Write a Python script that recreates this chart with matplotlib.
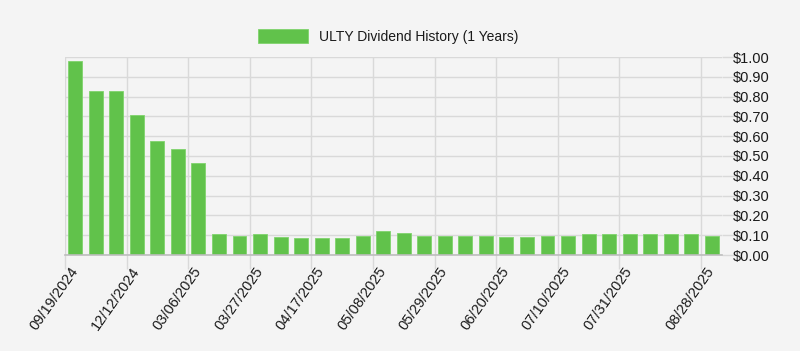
import matplotlib
matplotlib.use("Agg")
import matplotlib.pyplot as plt
from matplotlib.ticker import FuncFormatter, MultipleLocator
from matplotlib.transforms import ScaledTranslation

dates = ["09/19/2024", "10/17/2024", "11/14/2024", "12/12/2024", "01/09/2025",
         "02/06/2025", "03/06/2025", "03/13/2025", "03/20/2025", "03/27/2025",
         "04/03/2025", "04/10/2025", "04/17/2025", "04/24/2025", "05/01/2025",
         "05/08/2025", "05/15/2025", "05/22/2025", "05/29/2025", "06/05/2025",
         "06/12/2025", "06/20/2025", "06/26/2025", "07/03/2025", "07/10/2025",
         "07/17/2025", "07/24/2025", "07/31/2025", "08/07/2025", "08/14/2025",
         "08/21/2025", "08/28/2025"]
dividends = [0.98, 0.827, 0.827, 0.706, 0.575, 0.536, 0.466, 0.104, 0.097, 0.104,
             0.091, 0.084, 0.084, 0.084, 0.097, 0.123, 0.109, 0.097, 0.097, 0.097,
             0.097, 0.091, 0.091, 0.097, 0.097, 0.104, 0.104, 0.104, 0.104, 0.104,
             0.104, 0.097]
labeled_dates = ["09/19/2024", "12/12/2024", "03/06/2025", "03/27/2025", "04/17/2025",
                 "05/08/2025", "05/29/2025", "06/20/2025", "07/10/2025", "07/31/2025",
                 "08/28/2025"]
series_name = "ULTY Dividend History (1 Years)"

plt.rcParams['font.family'] = ['Liberation Sans', 'DejaVu Sans']
bg = "#f4f4f4"
grid_c = "#d9d9d9"
bar_c = "#61c24b"
txt_c = "#1a1a1a"

fig = plt.figure(figsize=(8.0, 3.51), dpi=100, facecolor=bg)
ax = fig.add_axes([65/800, 96/351, (722-65)/800, (255-57)/351])
ax.set_facecolor(bg)

x = list(range(len(dates)))
bars = ax.bar(x, dividends, width=0.68, color=bar_c, edgecolor="#7fd46c",
              linewidth=0.6, label=series_name, zorder=3)

ax.set_xlim(-0.5, len(dates) - 0.5)
ax.set_ylim(0, 1.0)

ax.yaxis.set_major_locator(MultipleLocator(0.1))
ax.yaxis.set_major_formatter(FuncFormatter(lambda v, p: f"${v:.2f}"))
ax.yaxis.tick_right()
ax.tick_params(axis='y', length=10, color=grid_c, width=1, labelsize=10.5,
               labelcolor=txt_c, pad=-2)
ax.tick_params(axis='x', length=10, color=grid_c, width=1, pad=2)

tick_pos = [dates.index(d) - 0.5 for d in labeled_dates]
ax.set_xticks(tick_pos)
ax.set_xticklabels(labeled_dates, rotation=55, ha='right', va='center',
                   rotation_mode='anchor', fontsize=10.5, color=txt_c)
offset = ScaledTranslation(10/100, 3/100, fig.dpi_scale_trans)
for lab in ax.get_xticklabels():
    lab.set_transform(lab.get_transform() + offset)

ax.grid(True, color=grid_c, linewidth=1, zorder=0)
for s in ['top', 'left', 'right']:
    ax.spines[s].set_visible(False)
ax.spines['bottom'].set_color("#bdbdbd")
ax.spines['bottom'].set_linewidth(1.2)
ax.spines['bottom'].set_zorder(4)

fig.legend(handles=[bars], labels=[series_name], loc='center',
           bbox_to_anchor=(388/800, 1 - 36.5/351), frameon=False,
           fontsize=10, handlelength=3.6, handleheight=1.2,
           handletextpad=0.75, labelcolor=txt_c)

fig.savefig("out.png", dpi=100, facecolor=bg)
